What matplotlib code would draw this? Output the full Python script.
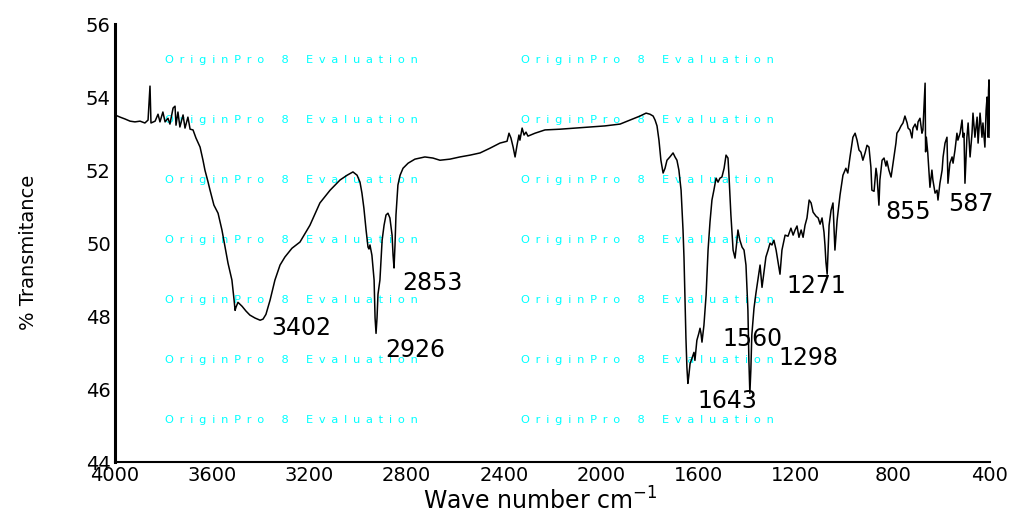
import matplotlib
matplotlib.use("Agg")
import matplotlib.pyplot as plt

# FTIR spectrum: wavenumber (cm^-1) and % transmittance
wavenumber = [
    4000, 3979, 3959, 3938, 3918, 3897, 3877, 3864, 3856, 3852,
    3835, 3823, 3815, 3803, 3794, 3782, 3774, 3761, 3753, 3749,
    3741, 3733, 3720, 3712, 3700, 3691, 3679, 3667, 3650, 3638,
    3630, 3617, 3609, 3593, 3576, 3560, 3547, 3535, 3519, 3510,
    3506, 3502, 3494, 3477, 3461, 3445, 3424, 3403, 3391, 3379,
    3362, 3342, 3321, 3301, 3272, 3239, 3198, 3157, 3115, 3074,
    3045, 3021, 3004, 2992, 2984, 2976, 2967, 2959, 2955, 2951,
    2943, 2934, 2930, 2926, 2922, 2918, 2910, 2901, 2893, 2885,
    2877, 2869, 2860, 2856, 2852, 2848, 2844, 2836, 2827, 2815,
    2794, 2766, 2725, 2692, 2663, 2622, 2581, 2539, 2498, 2457,
    2416, 2387, 2379, 2371, 2362, 2354, 2346, 2338, 2334, 2325,
    2317, 2309, 2301, 2272, 2231, 2169, 2107, 2046, 1984, 1922,
    1881, 1840, 1815, 1799, 1786, 1778, 1770, 1762, 1754, 1745,
    1737, 1729, 1717, 1704, 1696, 1688, 1680, 1671, 1663, 1659,
    1655, 1651, 1647, 1643, 1639, 1634, 1626, 1618, 1614, 1606,
    1598, 1593, 1589, 1585, 1577, 1568, 1560, 1552, 1544, 1536,
    1527, 1519, 1511, 1503, 1494, 1486, 1478, 1474, 1466, 1457,
    1449, 1441, 1437, 1429, 1420, 1412, 1404, 1396, 1392, 1388,
    1384, 1380, 1371, 1363, 1355, 1346, 1338, 1330, 1322, 1313,
    1305, 1297, 1289, 1280, 1272, 1264, 1256, 1243, 1231, 1219,
    1210, 1202, 1194, 1186, 1177, 1169, 1161, 1153, 1144, 1136,
    1128, 1116, 1107, 1099, 1091, 1083, 1079, 1075, 1070, 1062,
    1054, 1046, 1038, 1029, 1017, 1005, 993, 985, 976, 964,
    955, 947, 939, 931, 923, 914, 906, 898, 890, 886,
    877, 869, 865, 861, 857, 853, 844, 836, 828, 824,
    816, 807, 803, 795, 787, 783, 774, 766, 758, 750,
    741, 737, 729, 721, 717, 708, 700, 696, 688, 680,
    676, 667, 665, 662, 656, 647, 639, 635, 626, 618,
    614, 606, 597, 593, 585, 577, 573, 565, 556, 552,
    544, 536, 532, 523, 515, 511, 507, 503, 495, 490,
    482, 474, 470, 462, 453, 449, 441, 433, 429, 421,
    416, 412, 408, 406, 404, 400,
]
transmittance = [
    53.51, 53.45, 53.40, 53.34, 53.32, 53.34, 53.29, 53.37, 54.30, 53.29,
    53.34, 53.53, 53.32, 53.59, 53.32, 53.42, 53.26, 53.70, 53.75, 53.23,
    53.59, 53.18, 53.51, 53.15, 53.45, 53.12, 53.10, 52.88, 52.63, 52.27,
    52.00, 51.67, 51.45, 51.04, 50.82, 50.36, 49.89, 49.45, 48.99, 48.44,
    48.16, 48.25, 48.38, 48.27, 48.14, 48.03, 47.95, 47.89, 47.92, 48.05,
    48.44, 48.99, 49.40, 49.62, 49.86, 50.03, 50.49, 51.10, 51.45, 51.73,
    51.86, 51.95, 51.86, 51.67, 51.37, 50.96, 50.36, 49.89, 49.84, 49.95,
    49.67, 48.99, 47.95, 47.53, 47.95, 48.60, 48.99, 50.08, 50.49, 50.77,
    50.82, 50.69, 50.22, 49.67, 49.32, 49.95, 50.77, 51.59, 51.86, 52.05,
    52.19, 52.30, 52.36, 52.33, 52.27, 52.30, 52.36, 52.41, 52.47, 52.60,
    52.74, 52.79, 53.01, 52.88, 52.63, 52.36, 52.68, 52.96, 52.82, 53.15,
    52.96, 53.04, 52.93, 53.01, 53.10, 53.12, 53.15, 53.18, 53.21, 53.26,
    53.37, 53.48, 53.56, 53.53, 53.48, 53.37, 53.21, 52.82, 52.27, 51.92,
    52.05, 52.27, 52.36, 52.47, 52.36, 52.27, 52.00, 51.45, 50.36, 49.60,
    48.50, 47.40, 46.60, 46.16, 46.38, 46.70, 46.85, 47.01, 46.79, 47.34,
    47.53, 47.67, 47.53, 47.29, 47.75, 48.58, 49.81, 50.58, 51.18, 51.45,
    51.78, 51.67, 51.78, 51.81, 52.05, 52.41, 52.33, 51.86, 50.77, 49.81,
    49.59, 50.08, 50.36, 50.08, 49.89, 49.81, 49.40, 48.16, 46.79, 45.89,
    46.52, 47.48, 48.22, 48.63, 48.99, 49.40, 48.79, 49.21, 49.62, 49.81,
    50.00, 49.95, 50.08, 49.81, 49.48, 49.15, 49.81, 50.22, 50.19, 50.41,
    50.22, 50.36, 50.47, 50.16, 50.36, 50.16, 50.49, 50.69, 51.18, 51.10,
    50.85, 50.74, 50.69, 50.52, 50.69, 50.30, 49.95, 49.48, 49.15, 50.49,
    50.90, 51.10, 49.81, 50.63, 51.32, 51.86, 52.05, 51.92, 52.36, 52.90,
    53.01, 52.82, 52.55, 52.49, 52.27, 52.47, 52.68, 52.63, 52.08, 51.45,
    51.42, 52.05, 51.86, 51.45, 51.04, 51.73, 52.27, 52.33, 52.11, 52.25,
    52.00, 51.81, 52.00, 52.38, 52.74, 53.01, 53.10, 53.21, 53.29, 53.48,
    53.29, 53.15, 53.10, 52.88, 53.15, 53.26, 53.10, 53.32, 53.42, 53.01,
    53.10, 54.38, 52.50, 52.90, 52.47, 51.53, 52.00, 51.73, 51.37, 51.45,
    51.18, 51.64, 52.00, 52.36, 52.74, 52.90, 51.64, 52.19, 52.36, 52.19,
    52.55, 53.01, 52.82, 53.01, 53.37, 52.90, 53.01, 51.64, 52.90, 53.29,
    52.36, 53.01, 53.56, 52.90, 53.45, 52.74, 53.56, 52.90, 53.29, 52.63,
    53.64, 54.00, 52.90, 54.19, 54.47, 52.90,
]
assert len(wavenumber) == len(transmittance)

# Peak labels
peak_labels = ["3402", "2926", "2853", "1643", "1560", "1298", "1271", "855", "587"]

x_ticks = [4000, 3600, 3200, 2800, 2400, 2000, 1600, 1200, 800, 400]
y_ticks = [44, 46, 48, 50, 52, 54, 56]

watermark = "OriginPro 8 Evaluation"

fig = plt.figure(figsize=(10.18, 5.17), dpi=100)
ax = fig.add_axes([115 / 1018, 1 - 462.3 / 517, 875 / 1018, 438.3 / 517])

ax.plot(wavenumber, transmittance, color="black", lw=1.1, zorder=3)

ax.set_xlim(4000, 400)
ax.set_ylim(44, 56)
ax.set_xticks(x_ticks)
ax.set_yticks(y_ticks)
ax.tick_params(length=0, labelsize=14, pad=3)
for lab in ax.get_xticklabels() + ax.get_yticklabels():
    lab.set_family("DejaVu Sans")

for side in ("top", "right"):
    ax.spines[side].set_visible(False)
ax.spines["left"].set_linewidth(2.2)
ax.spines["bottom"].set_linewidth(1.5)

# Evaluation watermark, two columns by seven rows
spaced = "\u2002".join(watermark.replace(" ", "\u2002"))
for row in range(7):
    yy = 0.918 - row * 0.1369
    for xx in (0.0571, 0.464):
        ax.text(xx, yy, spaced, transform=ax.transAxes, color="#00FFFF",
                fontsize=8.2, family="DejaVu Sans", ha="left", va="center",
                zorder=1)

# Peak annotations (centre positions in data coordinates)
label_pos = {
    "3402": (3235, 47.68), "2926": (2766, 47.08), "2853": (2696, 48.91),
    "1643": (1482, 45.68), "1560": (1379, 47.38), "1298": (1149, 46.86),
    "1271": (1116, 48.83), "855": (737, 50.85), "587": (478, 51.07),
}
for lab in peak_labels:
    x, y = label_pos[lab]
    ax.text(x, y, lab, fontsize=17, family="DejaVu Sans", ha="center",
            va="center", zorder=4)

fig.text(540 / 1018, 1 - 510 / 517, "Wave number cm$^{-1}$", fontsize=17,
         family="DejaVu Sans", ha="center", va="baseline")
fig.text(28.5 / 1018, 1 - 252 / 517, "% Transmitance", fontsize=14,
         family="DejaVu Sans", rotation=90, ha="center", va="center")

fig.savefig("out.png", dpi=100)
